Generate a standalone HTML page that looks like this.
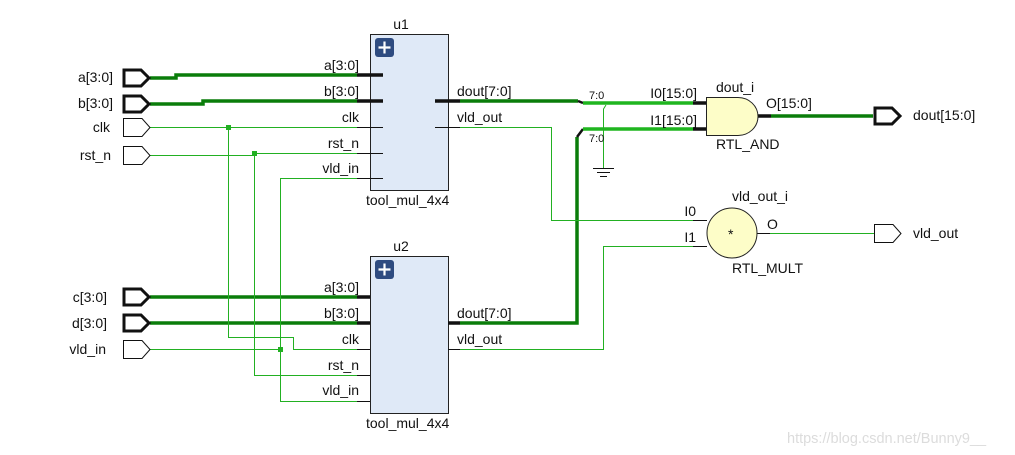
<!DOCTYPE html>
<html><head><meta charset="utf-8"><style>
html,body{margin:0;padding:0;background:#fff;}
svg{display:block;}
text{font-family:"Liberation Sans",sans-serif;font-size:14px;fill:#111;}
</style></head><body>
<svg width="1015" height="455" viewBox="0 0 1015 455" xmlns="http://www.w3.org/2000/svg">
<rect x="370.5" y="34.5" width="78" height="156" fill="#dfe9f7" stroke="#222" stroke-width="1"/>
<rect x="375" y="38" width="19" height="19" rx="3" fill="#2e4b80"/>
<path d="M384.5 41.5v12M378.5 47.5h12" stroke="#fff" stroke-width="2.2"/>
<rect x="370.5" y="256.5" width="78" height="157" fill="#dfe9f7" stroke="#222" stroke-width="1"/>
<rect x="375" y="260" width="19" height="19" rx="3" fill="#2e4b80"/>
<path d="M384.5 263.5v12M378.5 269.5h12" stroke="#fff" stroke-width="2.2"/>

<g stroke="#0a7d0a" stroke-width="3.5" fill="none">
<path d="M150 78H176V75H357"/>
<path d="M150 104H203V101H357"/>
<path d="M150 297H357"/>
<path d="M150 323H357"/>
<path d="M460 101H578"/>
<path d="M460 323H577V137"/>
<path d="M771 116H873"/>
</g>
<g stroke="#111" stroke-width="2.5"><path d="M578 101L583 103M577 137L583 129"/></g>
<g stroke="#1fb51f" stroke-width="3.5" fill="none">
<path d="M583 103H693"/><path d="M583 129H693"/>
</g>
<g stroke="#111" stroke-width="3.5">
<path d="M357 75H383M357 101H383M435 101H460M357 297H370M357 323H370M448 323H460M693 103H706M693 129H706M758 116H771"/>
</g>
<g stroke="#111" stroke-width="1">
<path d="M357 127.5H383M357 153.5H383M357 178.5H383M435 127.5H460M357 349.5H370M357 375.5H370M357 401.5H370M448 349.5H460M693 220.5H707M693 246.5H707M757 233.5H770"/>
</g>
<g stroke="#22b022" stroke-width="1" fill="none">
<path d="M150 127.5H357"/>
<path d="M150 155.5H254V153.5H357"/>
<path d="M228.5 127V337.5H293.5V349.5H357"/>
<path d="M254.5 153V375.5H357"/>
<path d="M357 178.5H280.5V401.5H357"/>
<path d="M150 349.5H280"/>
<path d="M460 127.5H551.5V220.5H693"/>
<path d="M460 349.5H603.5V246.5H693"/>
<path d="M770 233.5H874"/>
<path d="M603.5 168V109L606 105"/>
</g>
<g fill="#22b022"><rect x="226" y="125" width="5" height="5"/><rect x="252" y="151" width="5" height="5"/><rect x="278" y="347" width="5" height="5"/></g>
<g stroke="#111" stroke-width="1"><path d="M593 168.5H614M597 172.5H610M600 176.5H607"/></g>

<g fill="#fff" stroke="#111" stroke-width="3">
<path d="M124 70H141L149 78L141 86H124Z"/>
<path d="M124 96H141L149 104L141 112H124Z"/>
<path d="M124 289H141L149 297L141 305H124Z"/>
<path d="M124 315H141L149 323L141 331H124Z"/>
<path d="M875 108H892L900 116L892 124H875Z"/>
</g>
<g fill="#fff" stroke="#111" stroke-width="1">
<path d="M123.5 118.5H142L150 127.5L142 136.5H123.5Z"/>
<path d="M123.5 146.5H142L150 155.5L142 164.5H123.5Z"/>
<path d="M123.5 340.5H142L150 349.5L142 358.5H123.5Z"/>
<path d="M874.5 224.5H893L901 233.5L893 242.5H874.5Z"/>
</g>
<path d="M706.5 97.5H738A20 19 0 0 1 738 135.5H706.5Z" fill="#fdfdc8" stroke="#222"/>
<circle cx="732" cy="233" r="25" fill="#fdfdc8" stroke="#222"/>
<text x="728" y="239" style="font-size:14px">*</text>

<g text-anchor="end">
<text x="113" y="82">a[3:0]</text><text x="113" y="108">b[3:0]</text>
<text x="110" y="132">clk</text><text x="111" y="160">rst_n</text>
<text x="107" y="302">c[3:0]</text><text x="107" y="328">d[3:0]</text><text x="106" y="354">vld_in</text>
<text x="359" y="70">a[3:0]</text><text x="359" y="96">b[3:0]</text><text x="359" y="122">clk</text>
<text x="359" y="148">rst_n</text><text x="359" y="173">vld_in</text>
<text x="359" y="292">a[3:0]</text><text x="359" y="318">b[3:0]</text><text x="359" y="344">clk</text>
<text x="359" y="370">rst_n</text><text x="359" y="395">vld_in</text>
<text x="697" y="98">I0[15:0]</text><text x="697" y="125">I1[15:0]</text>
<text x="696" y="216">I0</text><text x="696" y="242">I1</text>
</g>
<text x="401" y="29" text-anchor="middle">u1</text>
<text x="401" y="251" text-anchor="middle">u2</text>
<text x="366" y="205">tool_mul_4x4</text>
<text x="366" y="428">tool_mul_4x4</text>
<text x="457" y="96">dout[7:0]</text><text x="457" y="122">vld_out</text>
<text x="457" y="318">dout[7:0]</text><text x="457" y="344">vld_out</text>
<text x="589" y="99" style="font-size:11px">7:0</text>
<text x="589" y="142" style="font-size:11px">7:0</text>
<text x="716" y="92">dout_i</text>
<text x="766" y="108">O[15:0]</text>
<text x="716" y="149">RTL_AND</text>
<text x="732" y="201">vld_out_i</text>
<text x="767" y="229">O</text>
<text x="732" y="273">RTL_MULT</text>
<text x="913" y="120">dout[15:0]</text>
<text x="913" y="238">vld_out</text>
<text x="787" y="443" style="font-size:14.5px;fill:#dcdcdc">https://blog.csdn.net/Bunny9__</text>
</svg>
</body></html>
